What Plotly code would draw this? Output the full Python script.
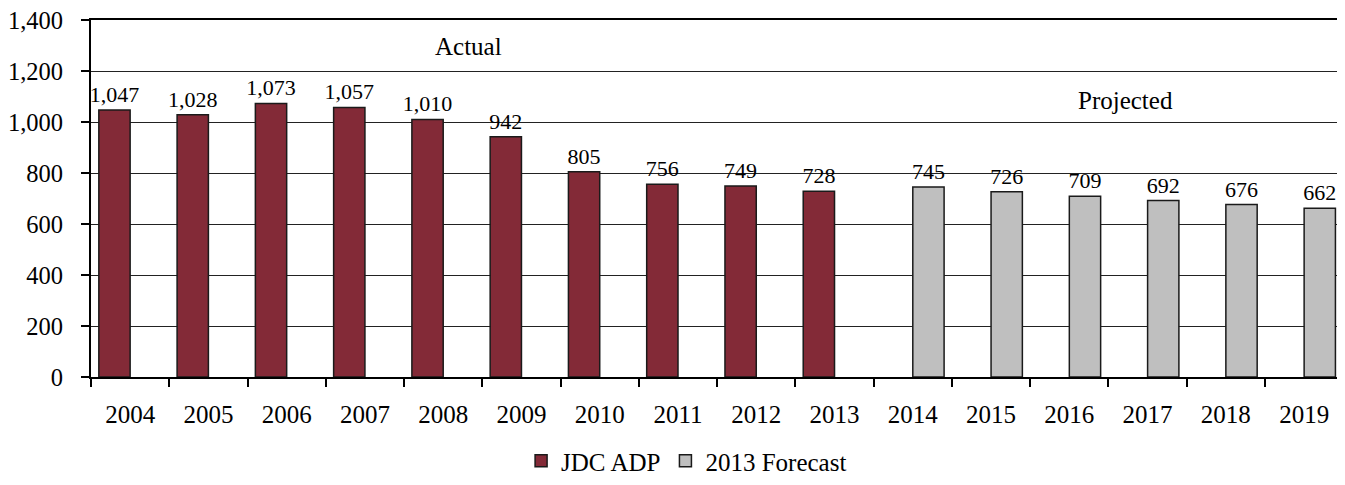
import plotly.graph_objects as go

years = ["2004", "2005", "2006", "2007", "2008", "2009", "2010", "2011",
         "2012", "2013", "2014", "2015", "2016", "2017", "2018", "2019"]
jdc_adp = [1047, 1028, 1073, 1057, 1010, 942, 805, 756, 749, 728,
           None, None, None, None, None, None]
forecast_2013 = [None] * 10 + [745, 726, 709, 692, 676, 662]
y_ticks = [0, 200, 400, 600, 800, 1000, 1200, 1400]

FONT = "Liberation Serif"
RED = "#832A37"
GRAY = "#BFBFBF"


def labels(vals):
    return [f"{v:,}" if v is not None else "" for v in vals]


fig = go.Figure()
fig.add_trace(go.Bar(
    x=years, y=jdc_adp, name="JDC ADP",
    marker=dict(color=RED, line=dict(color="#1a1a1a", width=1.5)),
    text=labels(jdc_adp), textposition="outside", cliponaxis=False,
    textfont=dict(family=FONT, size=22, color="black"),
    constraintext="none",
))
fig.add_trace(go.Bar(
    x=years, y=forecast_2013, name="2013 Forecast",
    marker=dict(color=GRAY, line=dict(color="#1a1a1a", width=1.5)),
    text=labels(forecast_2013), textposition="outside", cliponaxis=False,
    textfont=dict(family=FONT, size=22, color="black"),
    constraintext="none",
))

fig.update_layout(
    width=1329, height=469,
    margin=dict(l=83, r=0, t=12, b=100, autoexpand=False),
    paper_bgcolor="white", plot_bgcolor="white",
    barmode="group", bargap=0.2, bargroupgap=0,
    font=dict(family=FONT, size=25, color="black"),
    showlegend=True,
    legend=dict(orientation="h", x=0.478, xanchor="center",
                yref="container", y=0.034, yanchor="middle",
                font=dict(family=FONT, size=25),
                itemwidth=30, traceorder="normal"),
    xaxis=dict(
        type="category", range=[-0.5, 15.42], automargin=False,
        showline=True, linecolor="black", linewidth=2, mirror=True,
        ticks="outside", tickson="boundaries", ticklen=8, tickwidth=1.5,
        tickcolor="black", showgrid=False, ticklabelstandoff=14,
        tickfont=dict(family=FONT, size=25),
    ),
    yaxis=dict(
        range=[0, 1400], tickvals=y_ticks, automargin=False,
        ticktext=[f"{v:,}" for v in y_ticks],
        showline=True, linecolor="black", linewidth=2,
        ticks="outside", ticklen=8, tickwidth=1.5, tickcolor="black",
        showgrid=True, gridcolor="#222222", gridwidth=1.2,
        zeroline=False, ticklabelstandoff=13, ticklabeloverflow="allow",
        tickfont=dict(family=FONT, size=24.5),
    ),
    annotations=[
        dict(text="Actual", x=4.32, y=1298, xref="x", yref="y",
             showarrow=False, font=dict(family=FONT, size=25)),
        dict(text="Projected", x=12.72, y=1086, xref="x", yref="y",
             showarrow=False, font=dict(family=FONT, size=25)),
    ],
)

fig.write_html("out.html")
